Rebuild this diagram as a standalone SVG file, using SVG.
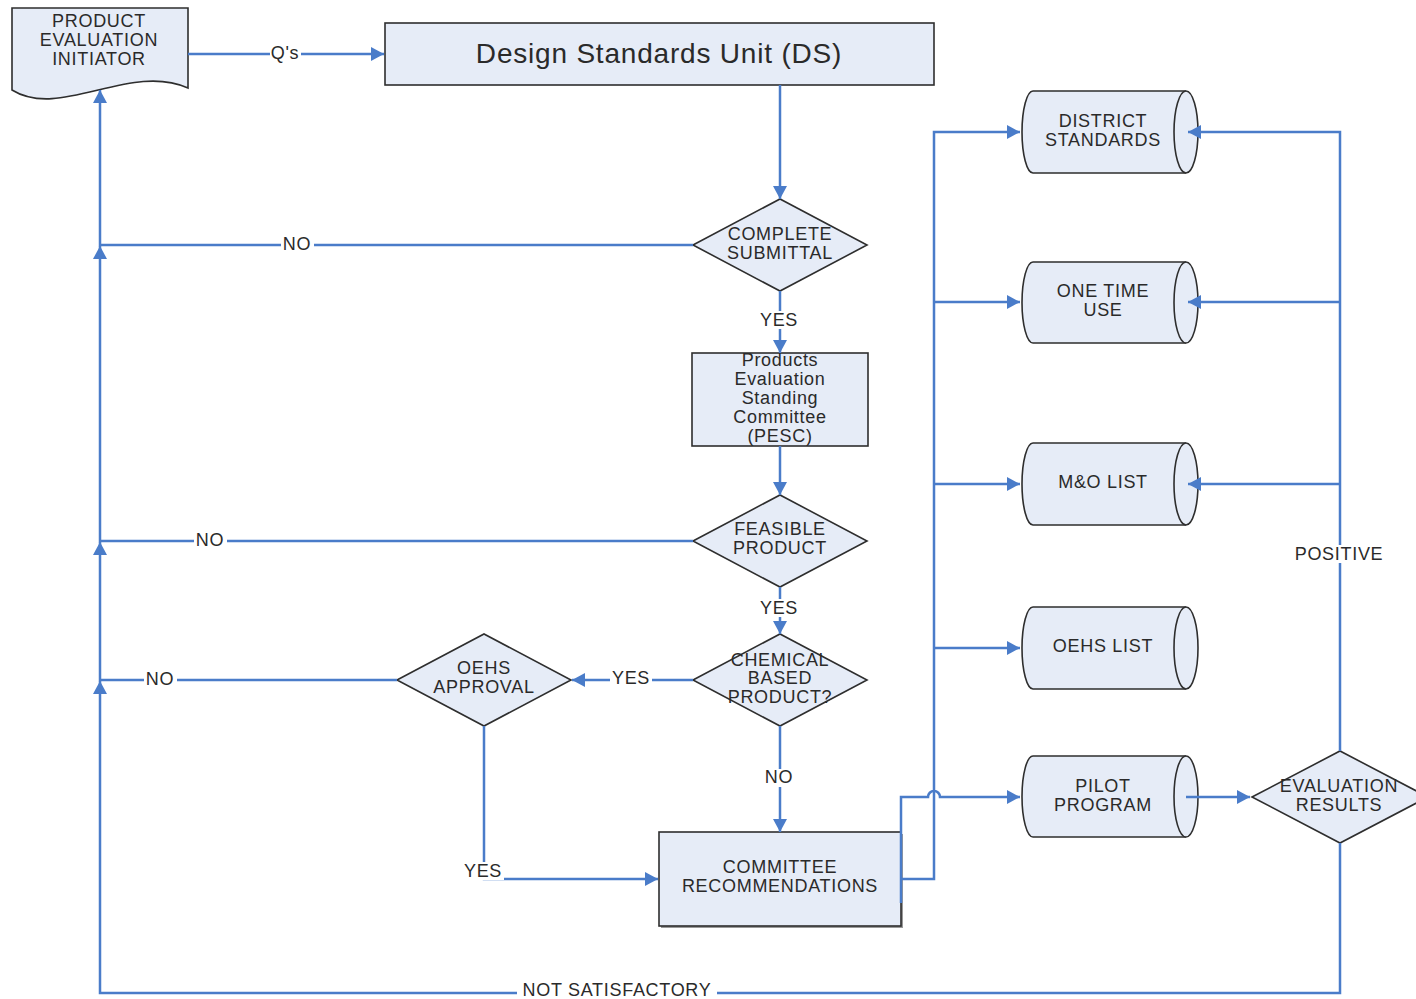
<svg xmlns="http://www.w3.org/2000/svg" width="1416" height="999" viewBox="0 0 1416 999">
<style>
.shape{fill:#e6ecf7;stroke:#2e2e2e;stroke-width:1.6}
.conn{fill:none;stroke:#4a7cc9;stroke-width:2.5}
.conn.a{marker-end:url(#arr)}
text{font-family:"Liberation Sans",Arial,sans-serif;font-size:18px;fill:#2a2a2a;text-anchor:middle;letter-spacing:0.7px}
.lbl-bg{fill:#fff}
</style>
<defs>
<marker id="arr" markerUnits="userSpaceOnUse" markerWidth="14" markerHeight="14" refX="13" refY="7" orient="auto">
<path d="M0,0 L13,7 L0,14 z" fill="#4a7cc9"/>
</marker>
</defs>
<rect width="1416" height="999" fill="#fff"/>

<g id="initiator">
<path class="shape" d="M12 8 H188 V88 C130 62, 60 120, 12 90 Z"/>
<text x="99" y="27">PRODUCT</text><text x="99" y="46">EVALUATION</text><text x="99" y="65">INITIATOR</text>
</g>
<g id="ds">
<rect class="shape" x="385" y="23" width="549" height="62"/>
<text x="659" y="63" style="font-size:28px;letter-spacing:0.8px">Design Standards Unit (DS)</text>
</g>
<g id="complete">
<polygon class="shape" points="693,245 780,199 867,245 780,291"/>
<text x="780" y="240">COMPLETE</text><text x="780" y="259">SUBMITTAL</text>
</g>
<g id="pesc">
<rect class="shape" x="692" y="353" width="176" height="93"/>
<text x="780" y="366">Products</text><text x="780" y="385">Evaluation</text><text x="780" y="404">Standing</text><text x="780" y="423">Committee</text><text x="780" y="442">(PESC)</text>
</g>
<g id="feasible">
<polygon class="shape" points="693,541 780,495 867,541 780,587"/>
<text x="780" y="535">FEASIBLE</text><text x="780" y="554">PRODUCT</text>
</g>
<g id="chemical">
<polygon class="shape" points="693,680 780,634 867,680 780,726"/>
<text x="780" y="666">CHEMICAL</text><text x="780" y="684">BASED</text><text x="780" y="703">PRODUCT?</text>
</g>
<g id="oehs-approval">
<polygon class="shape" points="397,680 484,634 571,680 484,726"/>
<text x="484" y="674">OEHS</text><text x="484" y="693">APPROVAL</text>
</g>
<g id="committee">
<rect x="661" y="834" width="242" height="94" fill="#999"/>
<rect class="shape" x="659" y="832" width="242" height="94"/>
<text x="780" y="873">COMMITTEE</text><text x="780" y="892">RECOMMENDATIONS</text>
</g>
<g id="district">
<path class="shape" d="M1033 91 H1186 A12 41 0 0 1 1186 173 H1033 A11 41 0 0 1 1033 91 Z"/>
<path class="shape" d="M1186 91 A12 41 0 0 0 1186 173" fill="none"/>
<text x="1103" y="127">DISTRICT</text><text x="1103" y="146">STANDARDS</text>
</g>
<g id="onetime">
<path class="shape" d="M1033 262 H1186 A12 40.5 0 0 1 1186 343 H1033 A11 40.5 0 0 1 1033 262 Z"/>
<path class="shape" d="M1186 262 A12 40.5 0 0 0 1186 343" fill="none"/>
<text x="1103" y="297">ONE TIME</text><text x="1103" y="316">USE</text>
</g>
<g id="mo">
<path class="shape" d="M1033 443 H1186 A12 41 0 0 1 1186 525 H1033 A11 41 0 0 1 1033 443 Z"/>
<path class="shape" d="M1186 443 A12 41 0 0 0 1186 525" fill="none"/>
<text x="1103" y="488">M&amp;O LIST</text>
</g>
<g id="oehslist">
<path class="shape" d="M1033 607 H1186 A12 41 0 0 1 1186 689 H1033 A11 41 0 0 1 1033 607 Z"/>
<path class="shape" d="M1186 607 A12 41 0 0 0 1186 689" fill="none"/>
<text x="1103" y="652">OEHS LIST</text>
</g>
<g id="pilot">
<path class="shape" d="M1033 756 H1186 A12 40.5 0 0 1 1186 837 H1033 A11 40.5 0 0 1 1033 756 Z"/>
<path class="shape" d="M1186 756 A12 40.5 0 0 0 1186 837" fill="none"/>
<text x="1103" y="792">PILOT</text><text x="1103" y="811">PROGRAM</text>
</g>
<g id="evaluation">
<polygon class="shape" points="1252,797 1340,751 1428,797 1340,843"/>
<text x="1339" y="792">EVALUATION</text><text x="1339" y="811">RESULTS</text>
</g>

<g id="connectors">
<path class="conn a" d="M188 54 H384"/>
<path class="conn a" d="M780 85 V199"/>
<path class="conn a" d="M693 245 H100 V90"/>
<path class="conn a" d="M693 541 H100 V246"/>
<path class="conn a" d="M397 680 H100 V542"/>
<path class="conn a" d="M1340 843 V993 H100 V681"/>
<path class="conn a" d="M780 291 V353"/>
<path class="conn a" d="M780 446 V495"/>
<path class="conn a" d="M780 587 V634"/>
<path class="conn a" d="M693 680 H572"/>
<path class="conn a" d="M780 726 V832"/>
<path class="conn a" d="M484 726 V879 H658"/>
<path class="conn a" d="M901 879 H934 V132 H1020"/>
<path class="conn a" d="M934 302 H1020"/>
<path class="conn a" d="M934 484 H1020"/>
<path class="conn a" d="M934 648 H1020"/>
<path class="conn a" d="M901 903 V797 H928 A6 6 0 0 1 940 797 H1020"/>
<path class="conn a" d="M1186 797 H1250"/>
<path class="conn a" d="M1340 751 V132 H1188"/>
<path class="conn a" d="M1340 302 H1188"/>
<path class="conn a" d="M1340 484 H1188"/>
</g>

<g id="labels">
<rect class="lbl-bg" x="270" y="45" width="31" height="18"/><text x="285" y="59">Q's</text>
<rect class="lbl-bg" x="281" y="236" width="33" height="18"/><text x="297" y="250">NO</text>
<rect class="lbl-bg" x="758" y="311" width="42" height="18"/><text x="779" y="326">YES</text>
<rect class="lbl-bg" x="194" y="532" width="33" height="18"/><text x="210" y="546">NO</text>
<rect class="lbl-bg" x="758" y="599" width="42" height="18"/><text x="779" y="614">YES</text>
<rect class="lbl-bg" x="610" y="670" width="42" height="18"/><text x="631" y="684">YES</text>
<rect class="lbl-bg" x="144" y="671" width="33" height="18"/><text x="160" y="685">NO</text>
<rect class="lbl-bg" x="763" y="769" width="33" height="18"/><text x="779" y="783">NO</text>
<rect class="lbl-bg" x="462" y="862" width="42" height="18"/><text x="483" y="877">YES</text>
<rect class="lbl-bg" x="1294" y="545" width="91" height="18"/><text x="1339" y="560">POSITIVE</text>
<rect class="lbl-bg" x="517" y="982" width="200" height="17"/><text x="617" y="996">NOT SATISFACTORY</text>
</g>
</svg>
